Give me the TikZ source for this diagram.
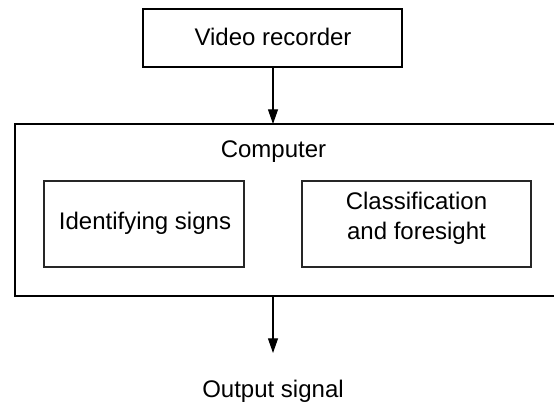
\documentclass[tikz,border=0pt]{standalone}
\usepackage{fontspec}
\setmainfont{Liberation Sans}
\usetikzlibrary{arrows.meta}
\begin{document}
\begin{tikzpicture}[x=0.75pt,y=-0.75pt,
  lbl/.style={font=\fontsize{18}{22.5}\selectfont, inner sep=0pt, align=center},
  thickbox/.style={draw=black, line width=2pt, fill=none},
  thinbox/.style={draw=black!85, line width=1pt, fill=none},
  arr/.style={draw=black, line width=0.8pt, -{Triangle[width=7.5pt,length=11pt]}}]
\useasboundingbox (0,0) rectangle (554,403);
\clip (0,0) rectangle (554,403);
\draw[thickbox] (143,9) rectangle (402,67);
\node[lbl] (vr) at (273,37) {Video recorder};
\coordinate (vrb) at (273,67);
\draw[thickbox] (15,124) rectangle (580,296);
\coordinate (ct) at (273,124);
\coordinate (cb) at (273,296);
\node[lbl] (comp) at (273.5,152) {Computer};
\draw[thinbox] (44,181) rectangle (244,267);
\node[lbl] (id) at (145,223) {Identifying signs};
\draw[thinbox] (302,181) rectangle (531,267);
\node[lbl] (cf) at (416.5,218) {Classification\\and foresight};
\node[lbl] (out) at (273,391) {Output signal};
\coordinate (outt) at (273,353);
\draw[arr] (vrb) -- (ct);
\draw[arr] (cb) -- (outt);
\end{tikzpicture}
\end{document}
